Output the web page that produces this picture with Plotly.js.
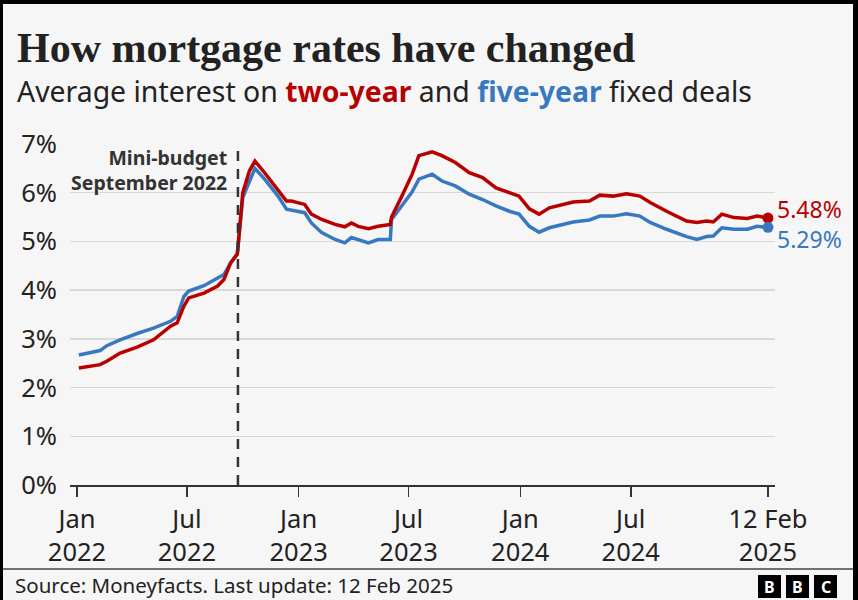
<!DOCTYPE html>
<html>
<head>
<meta charset="utf-8">
<script src="https://cdn.plot.ly/plotly-3.0.1.min.js"></script>
<style>
  html, body { margin: 0; padding: 0; background: #000; }
  #wrap { position: relative; width: 858px; height: 600px; }
  #chart { position: absolute; left: 0; top: 0; width: 858px; height: 600px; }
  #frame { position: absolute; left: 0; top: 0; width: 858px; height: 600px; box-sizing: border-box;
           border-top: 4px solid #000; border-left: 3px solid #000; border-right: 5px solid #000; pointer-events: none; }
</style>
</head>
<body>
<div id="wrap"><div id="chart"></div><div id="frame"></div></div>
<script>
const dates = [
  '2022-01-04','2022-02-08','2022-02-19','2022-03-13','2022-04-10','2022-05-07','2022-06-04','2022-06-15',
  '2022-06-26','2022-07-04','2022-07-29','2022-08-20','2022-08-31','2022-09-11','2022-09-22','2022-10-01',
  '2022-10-12','2022-10-21','2022-11-06','2022-11-28','2022-12-12','2022-12-20','2022-12-31','2023-01-11',
  '2023-01-22','2023-02-08','2023-03-02','2023-03-18','2023-03-29','2023-04-09','2023-04-26','2023-05-12',
  '2023-06-01','2023-06-03','2023-06-20','2023-07-07','2023-07-18','2023-08-09','2023-08-25','2023-09-16',
  '2023-10-09','2023-10-31','2023-11-22','2023-12-14','2023-12-30','2024-01-16','2024-02-01','2024-02-18',
  '2024-03-28','2024-04-24','2024-05-11','2024-06-02','2024-06-24','2024-07-16','2024-08-02','2024-08-29',
  '2024-10-01','2024-10-18','2024-11-03','2024-11-14','2024-11-28','2024-12-18','2025-01-09','2025-01-25',
  '2025-02-12'
];
const twoYear = [
  2.40,2.47,2.54,2.71,2.83,2.98,3.26,3.33,
  3.67,3.84,3.94,4.08,4.22,4.56,4.74,6.00,
  6.45,6.65,6.41,6.07,5.83,5.83,5.80,5.76,
  5.56,5.45,5.35,5.30,5.38,5.31,5.26,5.31,
  5.35,5.50,5.93,6.38,6.76,6.84,6.76,6.62,
  6.41,6.31,6.10,6.00,5.93,5.67,5.56,5.69,
  5.81,5.83,5.95,5.93,5.98,5.93,5.80,5.62,
  5.42,5.39,5.42,5.40,5.56,5.49,5.47,5.52,
  5.48
];
const fiveYear = [
  2.67,2.76,2.86,2.98,3.11,3.22,3.36,3.46,
  3.87,3.98,4.09,4.25,4.32,4.56,4.74,5.90,
  6.21,6.50,6.28,5.93,5.66,5.64,5.62,5.59,
  5.38,5.18,5.04,4.97,5.08,5.04,4.97,5.04,
  5.04,5.45,5.73,6.02,6.28,6.38,6.24,6.14,
  5.97,5.86,5.73,5.62,5.56,5.31,5.19,5.28,
  5.40,5.44,5.52,5.52,5.57,5.52,5.39,5.25,
  5.10,5.04,5.10,5.11,5.28,5.25,5.25,5.31,
  5.29
];
const tickDates = ['2022-01-01','2022-07-01','2023-01-01','2023-07-01','2024-01-01','2024-07-01','2025-02-12'];
const tickLabels = ['Jan<br>2022','Jul<br>2022','Jan<br>2023','Jul<br>2023','Jan<br>2024','Jul<br>2024','12 Feb<br>2025'];
const miniBudgetDate = '2022-09-23';
const miniBudgetLabel = 'Mini-budget<br>September 2022';
const titleText = 'How mortgage rates have changed';
const subtitleText = 'Average interest on <span style="color:#b80000"><b>two-year</b></span> and <span style="color:#3878c0"><b>five-year</b></span> fixed deals';
const sourceText = 'Source: Moneyfacts. Last update: 12 Feb 2025';

const RED = '#b80000', BLUE = '#3878c0', INK = '#222222';
const SANS = 'Noto Sans, Open Sans, sans-serif';
const last = dates.length - 1;

const traces = [
  {x: dates, y: fiveYear, mode: 'lines', line: {color: BLUE, width: 3.5}, hoverinfo: 'skip'},
  {x: dates, y: twoYear, mode: 'lines', line: {color: RED, width: 3.5}, hoverinfo: 'skip'},
  {x: [dates[last]], y: [twoYear[last]], mode: 'markers', marker: {color: RED, size: 11}, hoverinfo: 'skip'},
  {x: [dates[last]], y: [fiveYear[last]], mode: 'markers', marker: {color: BLUE, size: 11}, hoverinfo: 'skip'}
];

// plot area: x 70..775, y 144..485
const PL = 70, PR = 775, PT = 144, PB = 485;
const px = v => (v - PL) / (PR - PL);
const py = v => (PB - v) / (PB - PT);

const layout = {
  width: 858, height: 600,
  paper_bgcolor: '#f6f6f6', plot_bgcolor: '#f6f6f6',
  margin: {l: PL, r: 858 - PR, t: PT, b: 600 - PB},
  showlegend: false,
  font: {family: SANS, color: INK},
  xaxis: {
    type: 'date', range: ['2021-12-20 10:00', '2025-02-23 14:00'],
    tickvals: tickDates, ticktext: tickLabels,
    ticks: 'outside', ticklen: 10, tickwidth: 1.5, tickcolor: '#333',
    showline: true, linecolor: '#333', linewidth: 2,
    showgrid: false, zeroline: false,
    tickfont: {size: 25.5, color: INK, family: SANS}
  },
  yaxis: {
    range: [0, 7], dtick: 1, ticksuffix: '%',
    showgrid: true, gridcolor: '#d9d9d9', gridwidth: 1.5,
    zeroline: false, showline: false, ticks: '',
    ticklabelstandoff: 12,
    tickfont: {size: 25.5, color: INK, family: SANS}
  },
  shapes: [
    {type: 'line', xref: 'x', yref: 'paper', x0: miniBudgetDate, x1: miniBudgetDate, y0: 0, y1: py(147),
     line: {color: '#333', width: 2.5, dash: '10px,8px'}},
    {type: 'line', xref: 'paper', yref: 'paper', x0: px(0), x1: px(858), y0: py(569), y1: py(569),
     line: {color: '#444', width: 1.5}},
    {type: 'rect', xref: 'paper', yref: 'paper', x0: px(758), x1: px(781), y0: py(598), y1: py(575), fillcolor: '#000', line: {width: 0}},
    {type: 'rect', xref: 'paper', yref: 'paper', x0: px(786), x1: px(809), y0: py(598), y1: py(575), fillcolor: '#000', line: {width: 0}},
    {type: 'rect', xref: 'paper', yref: 'paper', x0: px(814), x1: px(837), y0: py(598), y1: py(575), fillcolor: '#000', line: {width: 0}}
  ],
  annotations: [
    {xref: 'paper', yref: 'paper', x: px(15), y: py(48), xanchor: 'left', yanchor: 'middle', showarrow: false,
     text: titleText, font: {family: 'Liberation Serif, serif', size: 42, color: INK, weight: 'bold'}},
    {xref: 'paper', yref: 'paper', x: px(15), y: py(91), xanchor: 'left', yanchor: 'middle', showarrow: false,
     text: subtitleText, font: {family: SANS, size: 28.4, color: INK}},
    {xref: 'x', yref: 'paper', x: miniBudgetDate, xshift: -9, y: py(170), xanchor: 'right', yanchor: 'middle', align: 'right',
     showarrow: false, text: '<b>' + miniBudgetLabel + '</b>', font: {family: SANS, size: 19.5, color: '#333'}},
    {xref: 'x', yref: 'y', x: dates[last], y: twoYear[last], xanchor: 'left', yanchor: 'middle', xshift: 8, yshift: 9, borderpad: 0,
     showarrow: false, text: twoYear[last].toFixed(2) + '%', font: {family: SANS, size: 23, color: RED}},
    {xref: 'x', yref: 'y', x: dates[last], y: fiveYear[last], xanchor: 'left', yanchor: 'middle', xshift: 8, yshift: -12, borderpad: 0,
     showarrow: false, text: fiveYear[last].toFixed(2) + '%', font: {family: SANS, size: 23, color: BLUE}},
    {xref: 'paper', yref: 'paper', x: px(13), y: py(585), xanchor: 'left', yanchor: 'middle', showarrow: false,
     text: sourceText, font: {family: SANS, size: 20.5, color: INK}},
    {xref: 'paper', yref: 'paper', x: px(769.5), y: py(586.5), xanchor: 'center', yanchor: 'middle', showarrow: false,
     text: '<b>B</b>', font: {family: SANS, size: 16, color: '#fff'}},
    {xref: 'paper', yref: 'paper', x: px(797.5), y: py(586.5), xanchor: 'center', yanchor: 'middle', showarrow: false,
     text: '<b>B</b>', font: {family: SANS, size: 16, color: '#fff'}},
    {xref: 'paper', yref: 'paper', x: px(825.5), y: py(586.5), xanchor: 'center', yanchor: 'middle', showarrow: false,
     text: '<b>C</b>', font: {family: SANS, size: 16, color: '#fff'}}
  ]
};

Plotly.newPlot('chart', traces, layout, {staticPlot: true, displayModeBar: false});
</script>
</body>
</html>
